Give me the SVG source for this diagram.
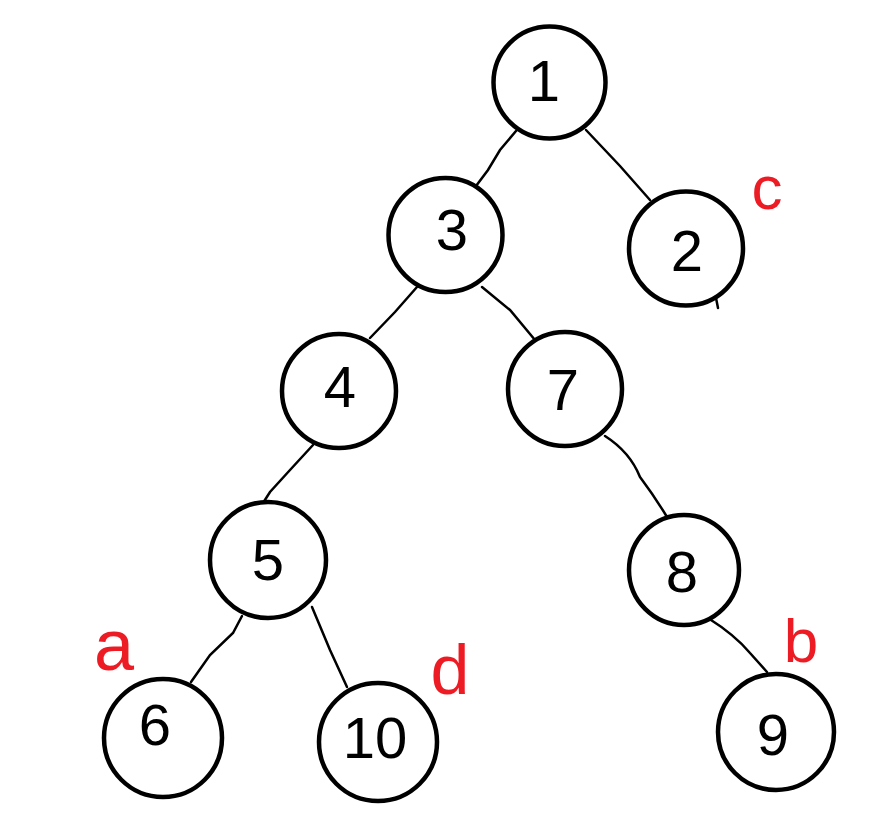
<svg xmlns="http://www.w3.org/2000/svg" width="895" height="838" viewBox="0 0 895 838">
<style>
.node circle{fill:#fff;stroke:#000;stroke-width:4.5}
.node text{font-family:"Liberation Sans",Arial,sans-serif;font-size:58px;fill:#000;text-anchor:middle}
.edge{fill:none;stroke:#000;stroke-width:2.5;stroke-linecap:round}
.lbl{font-family:"Liberation Sans",Arial,sans-serif;fill:#ed1c24;text-anchor:middle}
</style>
<rect width="895" height="838" fill="#fff"/>
<g id="connectors">
<path class="edge" d="M516,131 L500,150 L488,170 L473,190"/>
<path class="edge" d="M586,130 L620,166 L650,200"/>
<path class="edge" d="M417,287 L395,312 L370,338"/>
<path class="edge" d="M482,287 L510,310 L535,340"/>
<path class="edge" d="M313,445 L290,470 L270,492 L263,503"/>
<path class="edge" d="M605,436 Q630,452 640,477 Q655,497 667,517"/>
<path class="edge" d="M242,616 L233,633 L210,655 L191,682"/>
<path class="edge" d="M312,607 L330,650 L347,687"/>
<path class="edge" d="M708,618 Q735,635 750,653 L767,672"/>
<path class="edge" d="M715,293 L718,308"/>
</g>
<g id="n1" class="node"><circle cx="549.5" cy="82.5" r="56"/><text x="544" y="101">1</text></g>
<g id="n3" class="node"><circle cx="445.5" cy="235" r="57"/><text x="452" y="250">3</text></g>
<g id="n2" class="node"><circle cx="686" cy="248.5" r="57"/><text x="687" y="271">2</text></g>
<g id="n4" class="node"><circle cx="339" cy="391" r="57"/><text x="340" y="407">4</text></g>
<g id="n7" class="node"><circle cx="565" cy="389" r="57"/><text x="563" y="410">7</text></g>
<g id="n5" class="node"><circle cx="268" cy="560" r="58"/><text x="268" y="580">5</text></g>
<g id="n8" class="node"><circle cx="684" cy="570" r="55"/><text x="682" y="592">8</text></g>
<g id="n6" class="node"><circle cx="163" cy="738" r="59"/><text x="155" y="745">6</text></g>
<g id="n10" class="node"><circle cx="378" cy="742" r="59"/><text x="375" y="758">10</text></g>
<g id="n9" class="node"><circle cx="776" cy="732" r="58"/><text x="773" y="755">9</text></g>
<g id="labels">
<text class="lbl" x="767" y="209" font-size="62">c</text>
<text class="lbl" x="114" y="670" font-size="72">a</text>
<text class="lbl" x="450" y="694" font-size="70">d</text>
<text class="lbl" x="801" y="662" font-size="62">b</text>
</g>
</svg>
